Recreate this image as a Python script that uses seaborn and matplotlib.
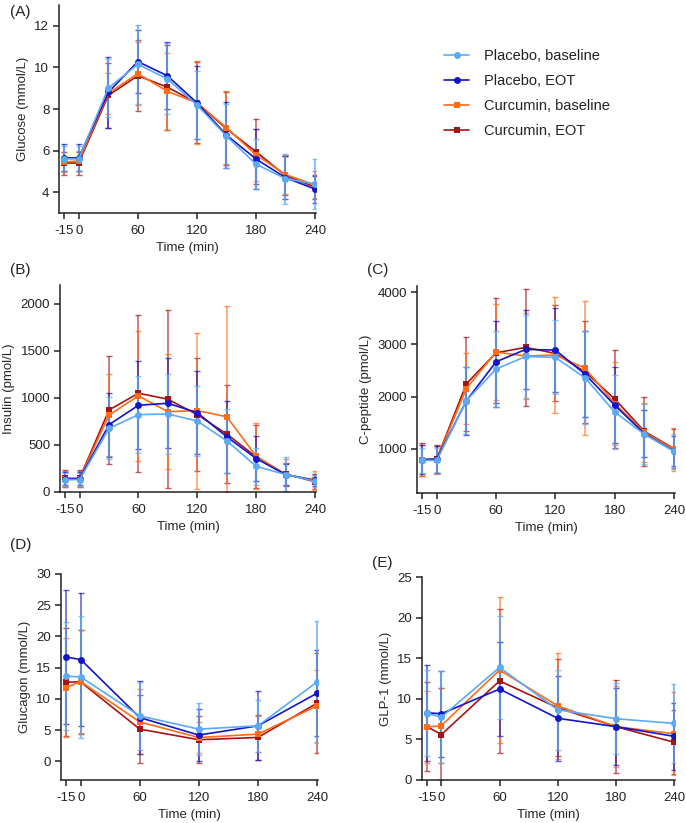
import numpy as np
import pandas as pd
import matplotlib
matplotlib.use("Agg")
import matplotlib.pyplot as plt
import seaborn as sns
from matplotlib.lines import Line2D

sns.set_theme(style="ticks")
plt.rcParams['font.family'] = ['Liberation Sans', 'DejaVu Sans']

groups = ["Placebo, baseline", "Placebo, EOT", "Curcumin, baseline", "Curcumin, EOT"]
colors = {"Placebo, baseline": "#5aaaf5", "Placebo, EOT": "#1414c8",
          "Curcumin, baseline": "#ff6c14", "Curcumin, EOT": "#a51414"}
markers = {"Placebo, baseline": "o", "Placebo, EOT": "o",
           "Curcumin, baseline": "s", "Curcumin, EOT": "s"}

t_long = [-15, 0, 30, 60, 90, 120, 150, 180, 210, 240]
t_short = [-15, 0, 60, 120, 180, 240]

# Glucose (mmol/L)
glu_mean = {
    "Placebo, baseline": [5.6, 5.6, 9.0, 10.15, 9.45, 8.2, 6.7, 5.35, 4.65, 4.4],
    "Placebo, EOT": [5.65, 5.65, 8.8, 10.28, 9.6, 8.3, 6.75, 5.6, 4.7, 4.15],
    "Curcumin, baseline": [5.45, 5.5, 8.75, 9.7, 8.85, 8.3, 7.1, 5.8, 4.85, 4.35],
    "Curcumin, EOT": [5.4, 5.4, 8.65, 9.6, 9.05, 8.3, 7.05, 5.95, 4.8, 4.25],
}
glu_sd = {
    "Placebo, baseline": [0.6, 0.6, 1.4, 1.9, 1.7, 1.65, 1.55, 1.2, 1.2, 1.2],
    "Placebo, EOT": [0.65, 0.65, 1.7, 1.5, 1.6, 1.75, 1.6, 1.45, 1.05, 0.65],
    "Curcumin, baseline": [0.5, 0.5, 1.0, 1.5, 1.85, 2.0, 1.75, 1.25, 0.95, 0.65],
    "Curcumin, EOT": [0.55, 0.55, 1.55, 1.7, 2.05, 1.95, 1.75, 1.55, 0.95, 0.6],
}

# Insulin (pmol/L)
ins_mean = {
    "Placebo, baseline": [132, 132, 676, 822, 829, 754, 544, 274, 185, 117],
    "Placebo, EOT": [140, 140, 715, 922, 943, 843, 587, 356, 185, 125],
    "Curcumin, baseline": [140, 140, 818, 1021, 854, 865, 800, 380, 185, 125],
    "Curcumin, EOT": [145, 145, 872, 1050, 986, 822, 616, 374, 189, 110],
}
ins_sd = {
    "Placebo, baseline": [70, 70, 330, 410, 425, 375, 340, 195, 185, 60],
    "Placebo, EOT": [70, 70, 340, 470, 480, 440, 380, 235, 115, 60],
    "Curcumin, baseline": [85, 85, 440, 690, 610, 830, 1175, 350, 170, 100],
    "Curcumin, EOT": [90, 90, 575, 835, 945, 600, 525, 335, 120, 80],
}

# C-peptide (pmol/L)
cp_mean = {
    "Placebo, baseline": [776, 776, 1923, 2526, 2769, 2750, 2359, 1705, 1276, 949],
    "Placebo, EOT": [790, 800, 1920, 2667, 2904, 2891, 2429, 1833, 1288, 955],
    "Curcumin, baseline": [780, 790, 2154, 2853, 2776, 2795, 2545, 1865, 1314, 987],
    "Curcumin, EOT": [790, 800, 2244, 2840, 2942, 2827, 2474, 1955, 1333, 1000],
}
cp_sd = {
    "Placebo, baseline": [240, 240, 650, 730, 790, 710, 890, 715, 575, 340],
    "Placebo, EOT": [280, 260, 650, 785, 755, 810, 820, 730, 450, 290],
    "Curcumin, baseline": [300, 270, 690, 920, 830, 1110, 1280, 800, 560, 410],
    "Curcumin, EOT": [320, 270, 905, 1050, 1130, 920, 980, 935, 660, 380],
}

# Glucagon
gcg_mean = {
    "Placebo, baseline": [13.65, 13.5, 7.27, 5.15, 5.68, 12.7],
    "Placebo, EOT": [16.7, 16.3, 7.0, 4.2, 5.68, 10.9],
    "Curcumin, baseline": [11.8, 12.75, 6.3, 3.8, 4.35, 8.87],
    "Curcumin, EOT": [12.7, 12.7, 5.15, 3.45, 3.82, 9.3],
}
gcg_sd = {
    "Placebo, baseline": [8.6, 9.7, 5.4, 4.2, 4.2, 9.7],
    "Placebo, EOT": [10.7, 10.7, 5.8, 4.1, 5.5, 6.9],
    "Curcumin, baseline": [7.9, 8.3, 5.2, 2.5, 2.85, 5.75],
    "Curcumin, EOT": [8.6, 8.3, 5.45, 3.75, 3.6, 8.0],
}

# GLP-1
glp_mean = {
    "Placebo, baseline": [8.2, 7.75, 13.87, 8.65, 7.55, 6.97],
    "Placebo, EOT": [8.28, 8.16, 11.2, 7.6, 6.57, 5.38],
    "Curcumin, baseline": [6.5, 6.7, 13.54, 9.13, 6.57, 5.7],
    "Curcumin, EOT": [6.57, 5.6, 12.2, 8.9, 6.57, 4.65],
}
glp_sd = {
    "Placebo, baseline": [5.3, 5.7, 6.3, 4.9, 4.4, 4.85],
    "Placebo, EOT": [5.9, 5.3, 5.8, 5.2, 4.7, 4.1],
    "Curcumin, baseline": [4.4, 4.6, 9.0, 6.5, 5.0, 5.1],
    "Curcumin, EOT": [5.5, 5.7, 8.9, 6.0, 5.7, 3.95],
}

xticks = [-15, 0, 60, 120, 180, 240]
xticklabels = ["-15", "0", "60", "120", "180", "240"]


def long_df(times, means, sds):
    rows = []
    for g in groups:
        for t, m, s in zip(times, means[g], sds[g]):
            rows.append({"Time": t, "value": m, "sd": s, "group": g})
    return pd.DataFrame(rows)


W, H = 686, 823
fig = plt.figure(figsize=(W / 100, H / 100), dpi=100)


def add_ax(l, r, t, b):
    return fig.add_axes([l / W, 1 - b / H, (r - l) / W, (b - t) / H])


def panel(ax, times, means, sds, ylabel, ylim, yticks, xlim=(-20, 241), clip0=False):
    df = long_df(times, means, sds)
    draw_order = ["Curcumin, EOT", "Curcumin, baseline", "Placebo, EOT", "Placebo, baseline"]
    for g in draw_order:
        d = df[df.group == g]
        lo = d["sd"].values.copy()
        if clip0:
            lo = np.minimum(lo, d["value"].values - ylim[0])
        ax.errorbar(d["Time"], d["value"], yerr=[lo, d["sd"].values], fmt="none",
                    ecolor=colors[g], elinewidth=1.6 if g == "Placebo, baseline" else 1.1,
                    capsize=2.4, capthick=1.0, alpha=0.7, zorder=2)
    sns.lineplot(data=df, x="Time", y="value", hue="group", style="group",
                 hue_order=draw_order, style_order=draw_order,
                 palette=colors, markers=markers, dashes=False,
                 markersize=5, markeredgewidth=0, linewidth=1.2, ax=ax,
                 legend=False, zorder=3)
    ax.set_xlim(*xlim)
    ax.set_ylim(*ylim)
    ax.set_xticks(xticks)
    ax.set_xticklabels(xticklabels)
    ax.set_yticks(yticks)
    ax.set_xlabel("Time (min)", fontsize=9.5, labelpad=3.5)
    ax.set_ylabel(ylabel, fontsize=9.5, labelpad=4)
    ax.tick_params(axis="x", pad=4)
    ax.tick_params(axis="y", pad=2.5)
    ax.tick_params(axis="both", labelsize=9.5, length=4.5, width=1.1, color="#222222",
                   labelcolor="#222222")
    for s in ["top", "right"]:
        ax.spines[s].set_visible(False)
    for s in ["left", "bottom"]:
        ax.spines[s].set_linewidth(1.1)
        ax.spines[s].set_color("#222222")


axA = add_ax(59, 316, 5, 213)
panel(axA, t_long, glu_mean, glu_sd, "Glucose (mmol/L)", (3.0, 13.0), [4, 6, 8, 10, 12])
axB = add_ax(60, 316, 285, 492)
panel(axB, t_long, ins_mean, ins_sd, "Insulin (pmol/L)", (0, 2200), [0, 500, 1000, 1500, 2000], clip0=True)
axC = add_ax(417, 675, 286, 493)
panel(axC, t_long, cp_mean, cp_sd, "C-peptide (pmol/L)", (150, 4120), [1000, 2000, 3000, 4000])
axD = add_ax(61, 318, 574, 780)
panel(axD, t_short, gcg_mean, gcg_sd, "Glucagon (mmol/L)", (-3, 30), [0, 5, 10, 15, 20, 25, 30])
axE = add_ax(422, 675, 577, 780)
panel(axE, t_short, glp_mean, glp_sd, "GLP-1 (mmol/L)", (0, 25), [0, 5, 10, 15, 20, 25], clip0=True)

for lab, x, y in [("(A)", 10, 12), ("(B)", 10, 270), ("(C)", 367, 270),
                  ("(D)", 10, 545), ("(E)", 372, 563)]:
    fig.text(x / W, 1 - y / H, lab, fontsize=11, va="center", ha="left", color="#222222")

# Legend
handles = [Line2D([0], [0], color=colors[g], marker=markers[g], markersize=5,
                  markeredgewidth=0, linewidth=1.2) for g in groups]
fig.legend(handles, groups, loc="upper left", bbox_to_anchor=(431 / W, 1 - 36 / H),
           frameon=False, fontsize=10.5, handlelength=1.7, handletextpad=1.0,
           labelspacing=0.75, labelcolor="#222222")

fig.savefig("out.png", dpi=100)
